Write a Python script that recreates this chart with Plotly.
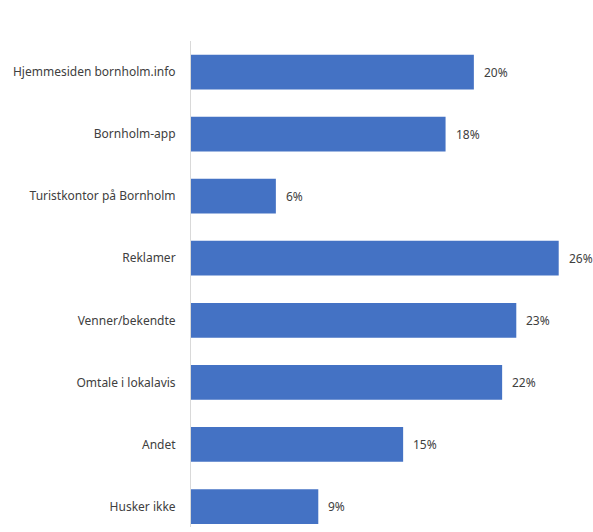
import plotly.graph_objects as go

# Survey answers, listed top to bottom as they appear on the chart
categories = [
    "Hjemmesiden bornholm.info",
    "Bornholm-app",
    "Turistkontor på Bornholm",
    "Reklamer",
    "Venner/bekendte",
    "Omtale i lokalavis",
    "Andet",
    "Husker ikke",
]
shares = [20, 18, 6, 26, 23, 22, 15, 9]
value_labels = ["20%", "18%", "6%", "26%", "23%", "22%", "15%", "9%"]

bar_color = "#4472C4"
text_color = "#404040"
font_family = "Noto Sans"

fig = go.Figure(
    go.Bar(
        x=shares,
        y=categories,
        orientation="h",
        marker=dict(color=bar_color, line=dict(width=0)),
        hoverinfo="skip",
    )
)

# Percentage labels to the right of each bar
for cat, val, lab in zip(categories, shares, value_labels):
    fig.add_annotation(
        x=val, y=cat, text=lab, showarrow=False,
        xanchor="left", yanchor="middle", xshift=8,
        font=dict(family=font_family, size=12, color=text_color),
    )

fig.update_layout(
    width=593,
    height=532,
    margin=dict(l=191, r=6, t=41, b=5),
    plot_bgcolor="white",
    paper_bgcolor="white",
    bargap=0.44,
    showlegend=False,
    font=dict(family=font_family, size=12, color=text_color),
)
fig.update_xaxes(
    range=[0, 28],
    showgrid=False,
    showticklabels=False,
    zeroline=False,
    showline=False,
)
fig.update_yaxes(
    categoryorder="array",
    categoryarray=categories,
    range=[7.33, -0.5],
    showgrid=False,
    showline=True,
    linecolor="#d9d9d9",
    linewidth=1,
    ticks="",
    ticklabelstandoff=12,
    tickfont=dict(family=font_family, size=12, color=text_color),
)

fig.write_html("out.html")
